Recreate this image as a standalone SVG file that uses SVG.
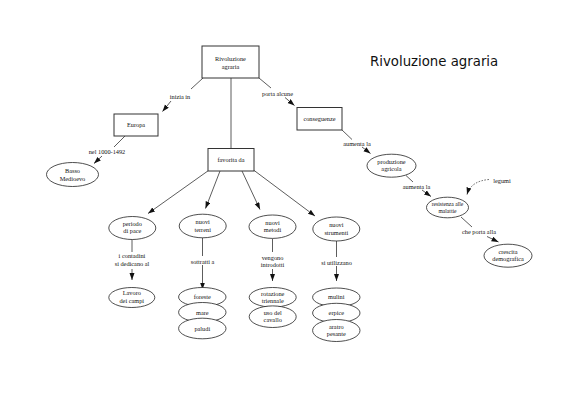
<svg xmlns="http://www.w3.org/2000/svg" width="566" height="400" viewBox="0 0 566 400">
<style>
text{font-family:"Liberation Serif","Times New Roman",serif;font-size:6.3px;fill:#111;text-anchor:middle}
.title{font-family:"DejaVu Sans",sans-serif;font-size:13.3px;text-anchor:start;fill:#111}
.box{fill:#fff;stroke:#333;stroke-width:1}
.ell{fill:#fff;stroke:#222;stroke-width:0.8}
.c line,.c path{stroke:#333;stroke-width:0.8;fill:none}
.arr{marker-end:url(#ah)}
</style>
<defs>
<marker id="ah" markerUnits="userSpaceOnUse" markerWidth="8" markerHeight="6" refX="7" refY="2.5" orient="auto">
<path d="M0,0 L7,2.5 L0,5 z" fill="#111"/>
</marker>
</defs>
<rect width="566" height="400" fill="#fff"/>
<text class="title" x="370" y="66">Rivoluzione agraria</text>

<g class="c" id="connectors">
<line x1="231" y1="78" x2="231" y2="148"/>
<line x1="203" y1="78" x2="191" y2="89"/>
<line class="arr" x1="171" y1="101" x2="162.5" y2="111.5"/>
<line x1="259" y1="78" x2="271" y2="88"/>
<line class="arr" x1="285" y1="97.5" x2="294.5" y2="105.5"/>
<line x1="125" y1="136" x2="114" y2="147"/>
<line class="arr" x1="102" y1="156" x2="94" y2="163.5"/>
<line class="arr" x1="208.5" y1="170.5" x2="148" y2="213.5"/>
<line class="arr" x1="220" y1="171" x2="205.5" y2="208.5"/>
<line class="arr" x1="242" y1="171" x2="260" y2="209.5"/>
<line class="arr" x1="253.5" y1="170" x2="315" y2="216"/>
<line x1="132" y1="239.5" x2="132" y2="252"/>
<line class="arr" x1="132" y1="269" x2="132" y2="280"/>
<line x1="202.5" y1="237.7" x2="202.5" y2="256"/>
<line class="arr" x1="202.5" y1="265" x2="202.5" y2="289.5"/>
<line x1="272.5" y1="238.5" x2="272.5" y2="252"/>
<line class="arr" x1="272.5" y1="269" x2="272.5" y2="281"/>
<line x1="336.5" y1="241" x2="336.5" y2="257"/>
<line class="arr" x1="336.5" y1="266" x2="336.5" y2="281"/>
<line x1="342" y1="130" x2="352" y2="139.5"/>
<line class="arr" x1="362" y1="147" x2="370.5" y2="153.5"/>
<line x1="406" y1="175.5" x2="413" y2="182"/>
<line class="arr" x1="422" y1="190" x2="431" y2="196.5"/>
<line x1="461" y1="217" x2="472" y2="227"/>
<line class="arr" x1="487" y1="236.5" x2="498.5" y2="242"/>
<path class="arr" d="M489,179.5 Q471,181 467,194.5" stroke-dasharray="1.5,1.5"/>
<text x="180" y="99">inizia in</text>
<text x="277.5" y="95.5">porta alcune</text>
<text x="107" y="154">nel 1000-1492</text>
<text x="132" y="258">i contadini</text>
<text x="132" y="266">si dedicano al</text>
<text x="202.5" y="263.5">sottratti a</text>
<text x="272.5" y="260">vengono</text>
<text x="272.5" y="267">introdotti</text>
<text x="336.5" y="264.5">si utilizzano</text>
<text x="357" y="146">aumenta la</text>
<text x="416.5" y="189">aumenta la</text>
<text x="479" y="234">che porta alla</text>
</g>

<g id="rivoluzione">
<rect class="box" x="202" y="46" width="57" height="32"/>
<text x="230.5" y="60.5">Rivoluzione</text>
<text x="230.5" y="69">agraria</text>
</g>
<g id="europa">
<rect class="box" x="114" y="114" width="44" height="22"/>
<text x="136" y="127">Europa</text>
</g>
<g id="basso-medioevo">
<ellipse class="ell" cx="72.5" cy="174.5" rx="26" ry="12"/>
<text x="72.5" y="173">Basso</text>
<text x="72.5" y="180.5">Medioevo</text>
</g>
<g id="conseguenze">
<rect class="box" x="297" y="107.5" width="45" height="22.5"/>
<text x="319.5" y="121">conseguenze</text>
</g>
<g id="favorita">
<rect class="box" x="208" y="148.5" width="46" height="22.5"/>
<text x="231" y="162">favorita da</text>
</g>
<g id="periodo">
<ellipse class="ell" cx="132.3" cy="228" rx="23.5" ry="11.5"/>
<text x="132.3" y="226.2">periodo</text>
<text x="132.3" y="233.4">di pace</text>
</g>
<g id="terreni">
<ellipse class="ell" cx="202.7" cy="226" rx="23.5" ry="11.8"/>
<text x="202.7" y="224">nuovi</text>
<text x="202.7" y="231.5">terreni</text>
</g>
<g id="metodi">
<ellipse class="ell" cx="272.5" cy="226.7" rx="23.5" ry="11.7"/>
<text x="272.5" y="224.5">nuovi</text>
<text x="272.5" y="232">metodi</text>
</g>
<g id="strumenti">
<ellipse class="ell" cx="336.3" cy="229" rx="23.5" ry="12"/>
<text x="336.3" y="227">nuovi</text>
<text x="336.3" y="234.5">strumenti</text>
</g>
<g id="lavoro">
<ellipse class="ell" cx="131.8" cy="297.5" rx="23" ry="10"/>
<text x="131.8" y="295">Lavoro</text>
<text x="131.8" y="302.5">dei campi</text>
</g>
<g id="foreste">
<ellipse class="ell" cx="202.3" cy="297" rx="23.7" ry="9.5"/>
<text x="202.3" y="299">foreste</text>
</g>
<g id="mare">
<ellipse class="ell" cx="202.3" cy="312.3" rx="23.7" ry="9.8"/>
<text x="202.3" y="314.5">mare</text>
</g>
<g id="paludi">
<ellipse class="ell" cx="202.3" cy="328.5" rx="23.7" ry="10.3"/>
<text x="202.3" y="330.5">paludi</text>
</g>
<g id="rotazione">
<ellipse class="ell" cx="272.7" cy="297.3" rx="23.5" ry="9.8"/>
<text x="272.7" y="295.5">rotazione</text>
<text x="272.7" y="302.5">triennale</text>
</g>
<g id="cavallo">
<ellipse class="ell" cx="272.7" cy="316.7" rx="23.5" ry="10.8"/>
<text x="272.7" y="315">uso del</text>
<text x="272.7" y="322">cavallo</text>
</g>
<g id="mulini">
<ellipse class="ell" cx="336.3" cy="297.3" rx="23.7" ry="9.3"/>
<text x="336.3" y="299.3">mulini</text>
</g>
<g id="erpice">
<ellipse class="ell" cx="336.3" cy="313" rx="23.7" ry="9.7"/>
<text x="336.3" y="315">erpice</text>
</g>
<g id="aratro">
<ellipse class="ell" cx="336.3" cy="330.5" rx="23.7" ry="11"/>
<text x="336.3" y="328.5">aratro</text>
<text x="336.3" y="335.5">pesante</text>
</g>
<g id="produzione">
<ellipse class="ell" cx="391.5" cy="165.7" rx="24.5" ry="11.5"/>
<text x="391.5" y="163.5">produzione</text>
<text x="391.5" y="171">agricola</text>
</g>
<g id="resistenza">
<ellipse class="ell" cx="447.5" cy="207.5" rx="21" ry="10.3"/>
<text x="447.5" y="205.5" style="font-size:5.6px">resistenza alle</text>
<text x="447.5" y="212.5" style="font-size:5.6px">malattie</text>
</g>
<g id="legumi">
<text x="502" y="183">legumi</text>
</g>
<g id="crescita">
<ellipse class="ell" cx="508" cy="255.7" rx="24" ry="11.5"/>
<text x="508" y="253.5">crescita</text>
<text x="508" y="261">demografica</text>
</g>
</svg>
